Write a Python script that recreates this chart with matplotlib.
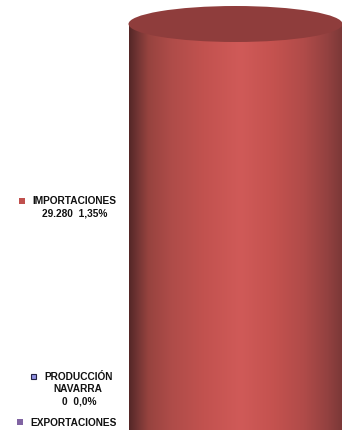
import numpy as np
import matplotlib
matplotlib.use("Agg")
import matplotlib.pyplot as plt
from matplotlib.colors import LinearSegmentedColormap
from matplotlib.patches import Ellipse, Rectangle

categories = ["IMPORTACIONES", "PRODUCCIÓN\nNAVARRA", "EXPORTACIONES"]
values = [29280, 0, 0]
value_labels = ["29.280  1,35%", "0  0,0%", ""]
colors = ["#C0504D", "#4F5BA8", "#8064A2"]

W, H = 342, 430
plt.rcParams["font.family"] = ["Liberation Sans", "DejaVu Sans"]
fig = plt.figure(figsize=(W / 100, H / 100), dpi=100, facecolor="white")

L, R, TOPC, BOT = 128.5, 342.5, 24.0, 430.0
ax = fig.add_axes([L / W, 0, (R - L) / W, 1])
total = values[0]
ax.set_xlim(-1, 1)
ax.set_ylim(0, total * H / (BOT - TOPC))
ax.axis("off")

cmap = LinearSegmentedColormap.from_list("cyl", [
    (0.00, "#552727"), (0.04, "#733534"), (0.09, "#97433F"), (0.20, "#AF4C49"), (0.35, "#C2524F"),
    (0.52, "#D05A58"), (0.68, "#C4524F"), (0.82, "#B04B49"), (0.93, "#934140"),
    (1.00, "#7A3837")])
grad = np.linspace(0, 1, 256).reshape(1, -1)

# Cylinder body: height comes from the data value
rx = 1.0
ylim = ax.get_ylim()
ry = (18.0 / H) * ylim[1]
im = ax.imshow(grad, cmap=cmap, extent=(-1, 1, 0, total + ry), aspect="auto", zorder=1)
im.set_clip_path(Rectangle((-1, 0), 2, total, transform=ax.transData))
ax.set_xlim(-1, 1)
ax.set_ylim(*ylim)
ax.add_patch(Ellipse((0, total), 2 * rx, 2 * ry, facecolor="#8F3D3C", edgecolor="none", zorder=2, clip_on=False))

# Legend-style labels (pixel coordinates)
def px(x, y):
    return x / W, 1 - y / H

lab = dict(fontsize=7.3, fontweight="bold", color="#111111", ha="center", va="center")
fig.text(*px(74, 201), categories[0], **lab)
fig.text(*px(74.5, 213), value_labels[0], **lab)
fig.text(*px(79, 377), categories[1].split("\n")[0], **lab)
fig.text(*px(78, 389), categories[1].split("\n")[1], **lab)
fig.text(*px(79, 402), value_labels[1], **lab)
fig.text(*px(74, 423), categories[2], **lab)

def marker(x, y, c, ec=None, s=6):
    fig.patches.append(Rectangle(((x - s / 2) / W, 1 - (y + s / 2) / H), s / W, s / H,
                                 transform=fig.transFigure, facecolor=c,
                                 edgecolor=ec or "none", linewidth=0.8, figure=fig))

marker(22, 201, colors[0])
marker(33.5, 376.5, "#8F90E0", ec="#222244", s=5)
marker(20, 422, colors[2])

fig.savefig("out.png", dpi=100, facecolor="white")
